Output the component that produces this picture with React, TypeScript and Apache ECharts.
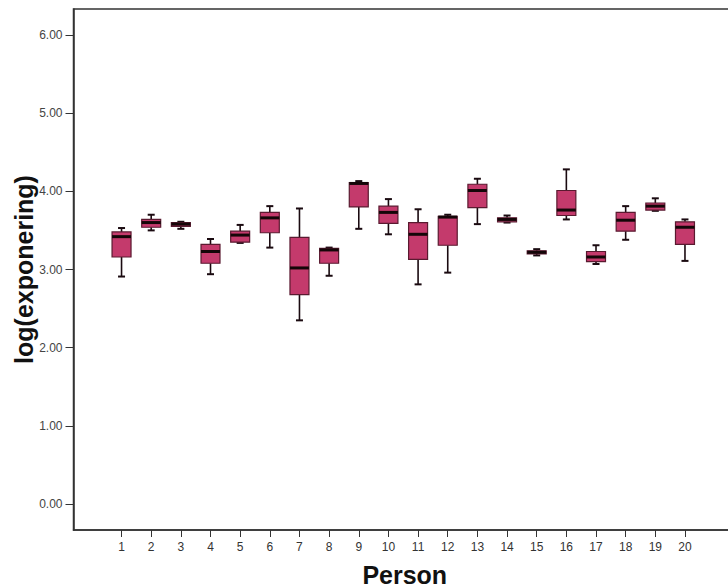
import React, { useEffect, useRef } from "react";
import * as echarts from "echarts";

const persons = [1, 2, 3, 4, 5, 6, 7, 8, 9, 10, 11, 12, 13, 14, 15, 16, 17, 18, 19, 20];
const mins = [2.91, 3.5, 3.52, 2.94, 3.34, 3.28, 2.35, 2.92, 3.52, 3.45, 2.81, 2.96, 3.58, 3.6, 3.18, 3.64, 3.07, 3.38, 3.75, 3.11];
const q1s = [3.16, 3.54, 3.55, 3.08, 3.35, 3.47, 2.68, 3.08, 3.8, 3.59, 3.13, 3.31, 3.79, 3.61, 3.2, 3.69, 3.1, 3.49, 3.76, 3.32];
const medians = [3.42, 3.6, 3.58, 3.23, 3.44, 3.66, 3.02, 3.25, 4.1, 3.73, 3.45, 3.67, 4.01, 3.64, 3.22, 3.76, 3.16, 3.63, 3.81, 3.54];
const q3s = [3.48, 3.64, 3.6, 3.32, 3.49, 3.73, 3.41, 3.27, 4.11, 3.81, 3.6, 3.68, 4.09, 3.66, 3.24, 4.01, 3.23, 3.73, 3.85, 3.61];
const maxs = [3.53, 3.7, 3.61, 3.39, 3.57, 3.81, 3.78, 3.28, 4.13, 3.9, 3.77, 3.7, 4.16, 3.69, 3.26, 4.28, 3.31, 3.81, 3.91, 3.64];
const yTicks = [0, 1, 2, 3, 4, 5, 6];

const FONT = "'Liberation Sans', Arial, sans-serif";

export default function App() {
  const ref = useRef<HTMLDivElement>(null);
  useEffect(() => {
    if (!ref.current) return;
    const chart = echarts.init(ref.current, null, { renderer: "svg" });
    const data = persons.map((p, i) => [p, mins[i], q1s[i], medians[i], q3s[i], maxs[i]]);
    chart.setOption({
      animation: false,
      backgroundColor: "#ffffff",
      grid: {
        left: 73.5,
        top: 9,
        right: -32,
        bottom: 58,
        outerBoundsMode: "none",
        containLabel: false,
        show: true,
        borderColor: "#333333",
        borderWidth: 1.5,
        backgroundColor: "transparent",
      },
      xAxis: {
        type: "value",
        min: -0.62,
        max: 22.53,
        name: "Person",
        nameLocation: "middle",
        nameGap: 32,
        nameMoveOverlap: false,
        nameTextStyle: {
          fontFamily: FONT,
          fontWeight: "bold",
          fontSize: 25,
          color: "#111",
          padding: [0, 24, 0, 0],
        },
        axisLine: { show: true, onZero: false, lineStyle: { color: "#333", width: 1.5 } },
        axisTick: { show: true, customValues: persons, length: 7, lineStyle: { color: "#333", width: 1 } },
        axisLabel: {
          customValues: persons,
          fontFamily: FONT,
          fontSize: 12,
          color: "#333",
          margin: 11,
        },
        splitLine: { show: false },
      },
      yAxis: {
        type: "value",
        min: -0.33,
        max: 6.33,
        name: "log(exponering)",
        nameLocation: "middle",
        nameGap: 37,
        nameMoveOverlap: false,
        nameRotate: 90,
        nameTextStyle: { fontFamily: FONT, fontWeight: "bold", fontSize: 25, color: "#111" },
        axisLine: { show: true, onZero: false, lineStyle: { color: "#333", width: 1.5 } },
        axisTick: { show: true, customValues: yTicks, length: 8, lineStyle: { color: "#333", width: 1 } },
        axisLabel: {
          customValues: yTicks,
          formatter: (v: number) => v.toFixed(2),
          fontFamily: FONT,
          fontSize: 12,
          color: "#444",
          margin: 11,
        },
        splitLine: { show: false },
      },
      series: [
        {
          type: "custom",
          data,
          renderItem: (params: any, api: any) => {
            const x = api.value(0);
            const vMin = api.value(1);
            const vQ1 = api.value(2);
            const vMed = api.value(3);
            const vQ3 = api.value(4);
            const vMax = api.value(5);
            const pMin = api.coord([x, vMin]);
            const pQ1 = api.coord([x, vQ1]);
            const pMed = api.coord([x, vMed]);
            const pQ3 = api.coord([x, vQ3]);
            const pMax = api.coord([x, vMax]);
            const w = api.size([1, 0])[0] * 0.64;
            const cx = pMed[0];
            const cap = 3.5;
            const lineStyle = { stroke: "#1a0a10", lineWidth: 1.6 };
            return {
              type: "group",
              children: [
                { type: "line", shape: { x1: cx, y1: pMax[1], x2: cx, y2: pQ3[1] }, style: lineStyle },
                { type: "line", shape: { x1: cx, y1: pQ1[1], x2: cx, y2: pMin[1] }, style: lineStyle },
                { type: "line", shape: { x1: cx - cap, y1: pMax[1], x2: cx + cap, y2: pMax[1] }, style: { stroke: "#1a0a10", lineWidth: 2 } },
                { type: "line", shape: { x1: cx - cap, y1: pMin[1], x2: cx + cap, y2: pMin[1] }, style: { stroke: "#1a0a10", lineWidth: 2 } },
                {
                  type: "rect",
                  shape: { x: cx - w / 2, y: pQ3[1], width: w, height: Math.max(pQ1[1] - pQ3[1], 2) },
                  style: { fill: "#c43a6c", stroke: "#5a1a30", lineWidth: 1.2 },
                },
                {
                  type: "line",
                  shape: { x1: cx - w / 2, y1: pMed[1], x2: cx + w / 2, y2: pMed[1] },
                  style: { stroke: "#140608", lineWidth: 3 },
                },
              ],
            };
          },
        },
      ],
    });
    return () => chart.dispose();
  }, []);
  return (
    <div
      ref={ref}
      style={{ position: "fixed", left: 0, top: 0, width: 728, height: 588, overflow: "hidden", background: "#fff" }}
    />
  );
}
